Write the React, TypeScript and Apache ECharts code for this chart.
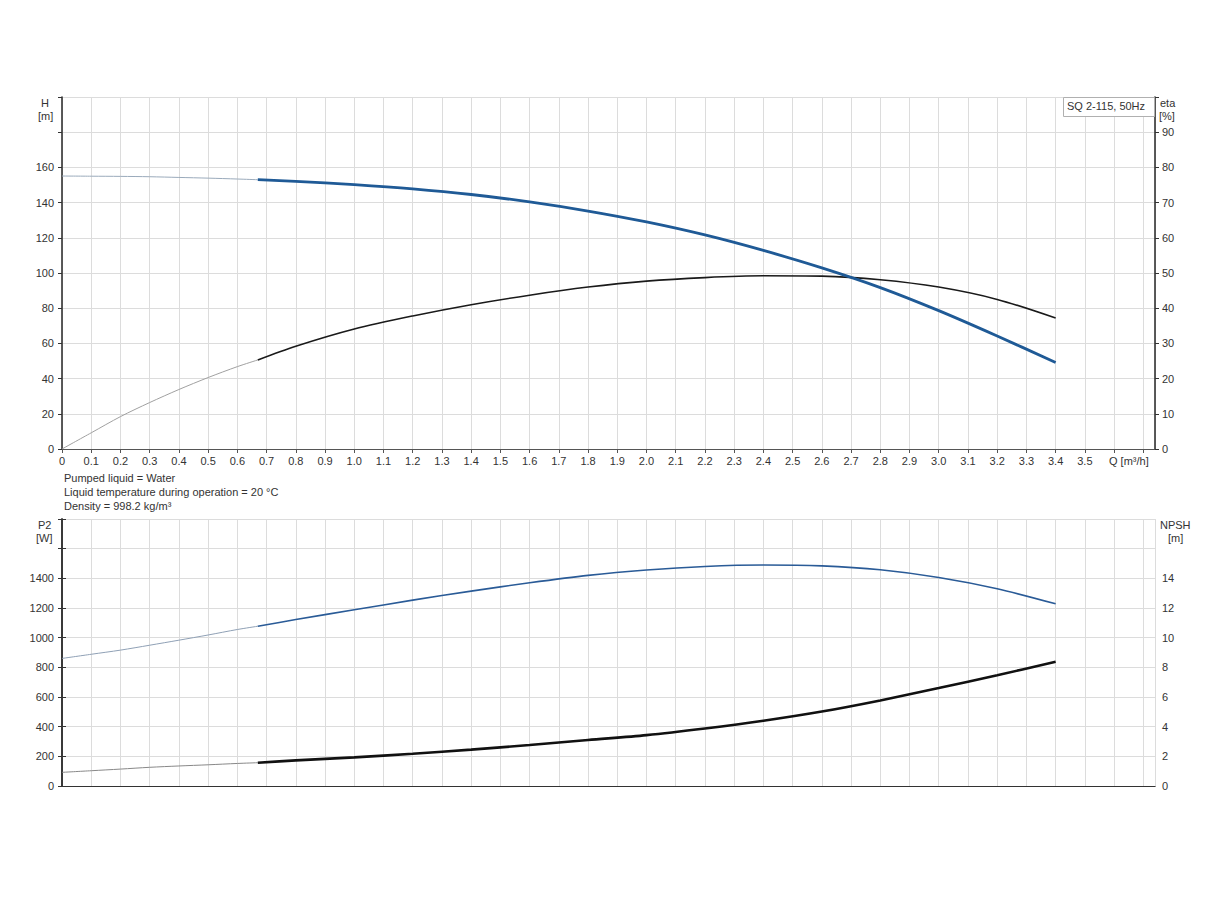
import React, { useEffect, useRef } from "react";
import * as echarts from "echarts";

// Flow (m³/h) — low-flow (thin) segment and main (thick) segment
const qLow = [0, 0.1, 0.2, 0.3, 0.4, 0.5, 0.6, 0.67];
const qMain = [0.67, 0.8, 1.0, 1.2, 1.4, 1.6, 1.8, 2.0, 2.2, 2.4, 2.6, 2.8, 3.0, 3.2, 3.4];

// Head H [m]
const hLow = [155.1, 155.0, 154.9, 154.7, 154.3, 153.9, 153.4, 153.0];
const hMain = [153.0, 152.1, 150.2, 147.8, 144.6, 140.4, 135.2, 129.0, 121.6, 112.8, 102.9, 91.7, 78.6, 64.2, 49.2];

// Efficiency eta [%]
const etaLow = [0, 4.6, 9.2, 13.2, 16.9, 20.3, 23.4, 25.3];
const etaMain = [25.3, 29.2, 34.1, 37.8, 41.0, 43.7, 46.0, 47.7, 48.7, 49.2, 49.1, 48.1, 46.0, 42.5, 37.2];

// Shaft power P2 [W]
const p2Low = [860, 888, 916, 949, 983, 1018, 1055, 1077];
const p2Main = [1077, 1122, 1188, 1253, 1314, 1370, 1420, 1456, 1480, 1490, 1484, 1458, 1406, 1330, 1228];

// NPSH [m]
const npshLow = [0.92, 1.03, 1.14, 1.26, 1.35, 1.43, 1.52, 1.57];
const npshMain = [1.57, 1.73, 1.93, 2.17, 2.45, 2.76, 3.1, 3.43, 3.88, 4.4, 5.02, 5.77, 6.6, 7.47, 8.37];

const infoLines = [
  "Pumped liquid = Water",
  "Liquid temperature during operation = 20 °C",
  "Density = 998.2 kg/m³",
];
const pumpLabel = "SQ 2-115, 50Hz";

const zip = (xs: number[], ys: number[]) => xs.map((x, i) => [x, ys[i]]);

const FONT = "Liberation Sans, Arial, sans-serif";
const AXIS_DARK = "#333333";
const GRID_COLOR = "#dcdcdc";

export default function App() {
  const ref = useRef<HTMLDivElement>(null);

  useEffect(() => {
    if (!ref.current) return;
    const chart = echarts.init(ref.current, null, { renderer: "svg" });

    const xFormatter = (v: number) => {
      const k = Math.round(v * 10);
      if (Math.abs(v * 10 - k) > 1e-6) return "";
      if (k === 0) return "0";
      if (k > 35) return "";
      return (k / 10).toFixed(1);
    };
    const limitLabel = (limit: number) => (v: number) => (v > limit + 1e-9 ? "" : String(v));

    const labelStyle = { fontFamily: FONT, fontSize: 11, color: AXIS_DARK };

    const left = 62;
    const right = 69;

    const line = (
      name: string,
      xi: number,
      yi: number,
      xs: number[],
      ys: number[],
      color: string,
      width: number,
      z = 2
    ) => ({
      name,
      type: "line",
      xAxisIndex: xi,
      yAxisIndex: yi,
      data: zip(xs, ys),
      smooth: 0.3,
      showSymbol: false,
      lineStyle: { color, width },
      silent: true,
      z,
    });

    const option: any = {
      animation: false,
      backgroundColor: "#ffffff",
      grid: [
        { left, right, top: 97, height: 352 },
        { left, right, top: 519, height: 267 },
      ],
      xAxis: [
        {
          type: "value",
          gridIndex: 0,
          min: 0,
          max: 3.74,
          interval: 0.1,
          axisLine: { show: true, lineStyle: { color: "#555", width: 1.2 } },
          axisTick: { show: true, length: 4, lineStyle: { color: "#555" } },
          axisLabel: { ...labelStyle, margin: 6, formatter: xFormatter, showMaxLabel: false },
          splitLine: { show: true, lineStyle: { color: GRID_COLOR, width: 1 } },
        },
        {
          type: "value",
          gridIndex: 1,
          min: 0,
          max: 3.74,
          interval: 0.1,
          axisLine: { show: true, lineStyle: { color: "#999", width: 1.2 } },
          axisTick: { show: false },
          axisLabel: { show: false },
          splitLine: { show: true, lineStyle: { color: GRID_COLOR, width: 1 } },
        },
        {
          type: "value",
          gridIndex: 1,
          position: "top",
          min: 0,
          max: 3.74,
          axisLine: { show: true, lineStyle: { color: AXIS_DARK, width: 1.2 } },
          axisTick: { show: false },
          axisLabel: { show: false },
          splitLine: { show: false },
        },
      ],
      yAxis: [
        {
          type: "value",
          gridIndex: 0,
          position: "left",
          min: 0,
          max: 200,
          interval: 20,
          axisLine: { show: true, lineStyle: { color: AXIS_DARK, width: 1.6 } },
          axisTick: { show: true, length: 4, lineStyle: { color: AXIS_DARK } },
          axisLabel: { ...labelStyle, margin: 8, formatter: limitLabel(160) },
          splitLine: { show: true, lineStyle: { color: GRID_COLOR, width: 1 } },
        },
        {
          type: "value",
          gridIndex: 0,
          position: "right",
          min: 0,
          max: 100,
          interval: 10,
          axisLine: { show: true, lineStyle: { color: AXIS_DARK, width: 1.6 } },
          axisTick: { show: true, length: 4, lineStyle: { color: AXIS_DARK } },
          axisLabel: { ...labelStyle, margin: 7, formatter: limitLabel(90) },
          splitLine: { show: false },
        },
        {
          type: "value",
          gridIndex: 1,
          position: "left",
          min: 0,
          max: 1800,
          interval: 200,
          axisLine: { show: true, lineStyle: { color: AXIS_DARK, width: 1.6 } },
          axisTick: { show: true, length: 4, lineStyle: { color: AXIS_DARK } },
          axisLabel: { ...labelStyle, margin: 8, formatter: limitLabel(1400) },
          splitLine: { show: true, lineStyle: { color: GRID_COLOR, width: 1 } },
        },
        {
          type: "value",
          gridIndex: 1,
          position: "right",
          min: 0,
          max: 18,
          interval: 2,
          axisLine: { show: true, lineStyle: { color: AXIS_DARK, width: 1.6 } },
          axisTick: { show: true, length: 4, lineStyle: { color: AXIS_DARK } },
          axisLabel: { ...labelStyle, margin: 7, formatter: limitLabel(14) },
          splitLine: { show: false },
        },
      ],
      series: [
        line("H low", 0, 0, qLow, hLow, "#9aaabb", 1),
        line("H", 0, 0, qMain, hMain, "#1f5a96", 2.8, 3),
        line("eta low", 0, 1, qLow, etaLow, "#a0a0a0", 1),
        line("eta", 0, 1, qMain, etaMain, "#1a1a1a", 1.6),
        line("P2 low", 1, 2, qLow, p2Low, "#8fa0b5", 1),
        line("P2", 1, 2, qMain, p2Main, "#2a5b97", 1.6),
        line("NPSH low", 1, 3, qLow, npshLow, "#888888", 1),
        line("NPSH", 1, 3, qMain, npshMain, "#111111", 2.6),
      ],
      graphic: [
        { type: "text", left: 41, top: 97, style: { text: "H", font: `11px ${FONT}`, fill: AXIS_DARK } },
        { type: "text", left: 38, top: 110, style: { text: "[m]", font: `11px ${FONT}`, fill: AXIS_DARK } },
        { type: "text", left: 1160, top: 97, style: { text: "eta", font: `11px ${FONT}`, fill: AXIS_DARK } },
        { type: "text", left: 1159, top: 110, style: { text: "[%]", font: `11px ${FONT}`, fill: AXIS_DARK } },
        { type: "text", left: 38, top: 519, style: { text: "P2", font: `11px ${FONT}`, fill: AXIS_DARK } },
        { type: "text", left: 36, top: 532, style: { text: "[W]", font: `11px ${FONT}`, fill: AXIS_DARK } },
        { type: "text", left: 1160, top: 519, style: { text: "NPSH", font: `11px ${FONT}`, fill: AXIS_DARK } },
        { type: "text", left: 1168, top: 532, style: { text: "[m]", font: `11px ${FONT}`, fill: AXIS_DARK } },
        { type: "text", left: 1109, top: 455, style: { text: "Q [m³/h]", font: `11px ${FONT}`, fill: AXIS_DARK } },
        {
          type: "rect",
          left: 1063,
          top: 97,
          shape: { width: 91, height: 19 },
          style: { fill: "#ffffff", stroke: "#b0b0b0", lineWidth: 1 },
          z: 10,
        },
        {
          type: "text",
          left: 1067,
          top: 100,
          style: { text: pumpLabel, font: `11px ${FONT}`, fill: AXIS_DARK },
          z: 11,
        },
        ...infoLines.map((t, i) => ({
          type: "text",
          left: 64,
          top: 472 + i * 14,
          style: { text: t, font: `11px ${FONT}`, fill: AXIS_DARK },
        })),
      ],
    };

    chart.setOption(option);
    return () => chart.dispose();
  }, []);

  return (
    <div
      ref={ref}
      style={{ position: "absolute", left: 0, top: 0, width: 1224, height: 900, background: "#fff" }}
    />
  );
}
